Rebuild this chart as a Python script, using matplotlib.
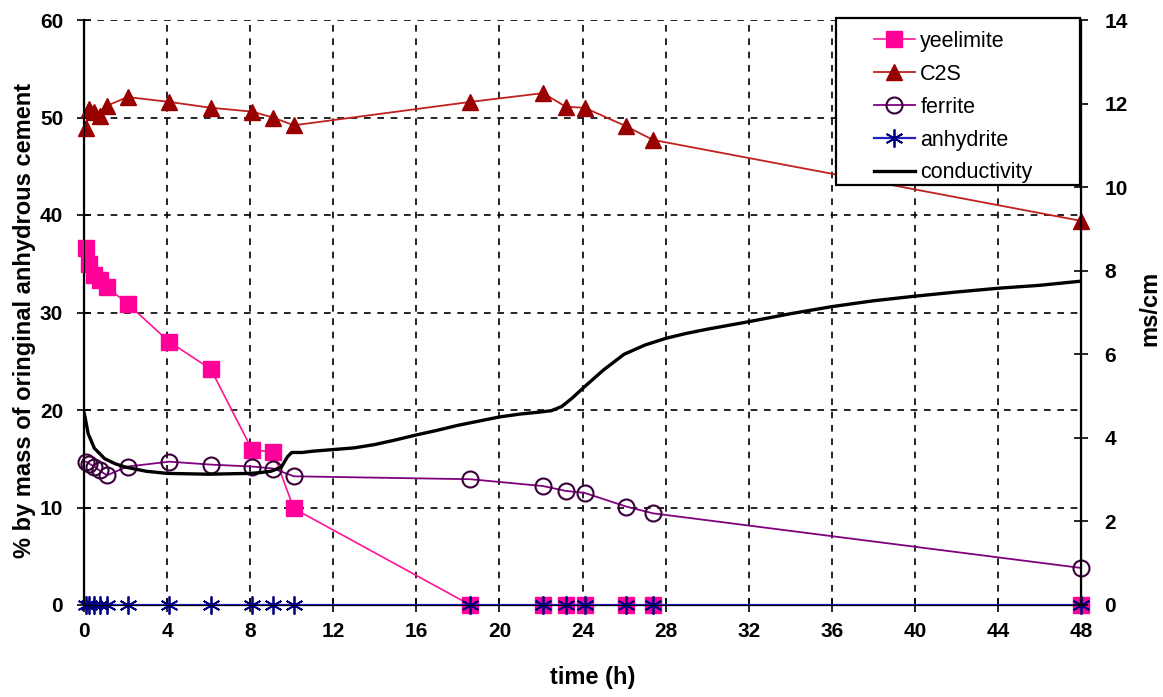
import matplotlib
matplotlib.use("Agg")
import matplotlib.pyplot as plt
from matplotlib.patches import Rectangle

plt.rcParams['font.family'] = ['Liberation Sans', 'DejaVu Sans']

# ---- data ----
time_phase = [0.1, 0.25, 0.5, 0.75, 1.1, 2.1, 4.1, 6.1, 8.1, 9.1, 10.1,
              18.6, 22.1, 23.2, 24.1, 26.1, 27.4, 48.0]
yeelimite = [36.6, 35.0, 33.8, 33.3, 32.6, 30.9, 27.0, 24.2, 15.9, 15.7, 9.9,
             0.0, 0.0, 0.0, 0.0, 0.0, 0.0, 0.0]
c2s = [48.9, 50.9, 50.6, 50.2, 51.2, 52.1, 51.6, 51.0, 50.6, 50.0, 49.2,
       51.6, 52.5, 51.1, 51.0, 49.1, 47.7, 39.4]
ferrite = [14.7, 14.5, 14.2, 13.8, 13.3, 14.2, 14.7, 14.4, 14.2, 14.0, 13.2,
           12.9, 12.2, 11.7, 11.5, 10.1, 9.4, 3.8]
anhydrite = [0.0] * len(time_phase)

time_cond = [0.0, 0.05, 0.2, 0.5, 1.0, 1.5, 2.0, 3.0, 4.0, 5.0, 6.0, 7.0, 8.0,
             8.5, 9.0, 9.5, 9.8, 10.0, 10.5, 11.0, 12.0, 13.0, 14.0, 15.0,
             16.0, 17.0, 18.0, 19.0, 20.0, 21.0, 22.0, 22.5, 23.0, 23.5, 24.0,
             25.0, 26.0, 27.0, 28.0, 29.0, 30.0, 32.0, 34.0, 36.0, 38.0, 40.0,
             42.0, 44.0, 46.0, 48.0]
conductivity = [4.6, 4.5, 4.1, 3.75, 3.5, 3.38, 3.3, 3.2, 3.15, 3.14, 3.13,
                3.14, 3.15, 3.17, 3.2, 3.3, 3.55, 3.65, 3.65, 3.68, 3.72,
                3.76, 3.84, 3.95, 4.07, 4.18, 4.3, 4.4, 4.5, 4.57, 4.62, 4.65,
                4.75, 4.95, 5.18, 5.62, 6.0, 6.22, 6.38, 6.5, 6.6, 6.78, 6.97,
                7.14, 7.28, 7.39, 7.49, 7.58, 7.65, 7.75]

x_ticks = list(range(0, 49, 4))
left_ticks = list(range(0, 61, 10))
right_ticks = list(range(0, 15, 2))

W, H = 1163, 697

# ---- figure ----
fig = plt.figure(figsize=(W / 100, H / 100), dpi=100)
ax = fig.add_axes([84 / W, 1 - 605 / H, (1081 - 84) / W, (605 - 20) / H])
ax2 = ax.twinx()

ax.plot(time_phase, yeelimite, color='#FF1493', lw=1.2, marker='s', ms=11,
        mfc='#FF0099', mec='#FF0099', label='yeelimite', zorder=3,
        clip_on=False)
ax.plot(time_phase, c2s, color='#C0201E', lw=1.3, marker='^', ms=11,
        mfc='#990000', mec='#990000', label='C2S', zorder=3, clip_on=False)
ax.plot(time_phase, ferrite, color='#800080', lw=1.3, marker='o', ms=11.5,
        mfc='none', mec='#3A003A', mew=1.5, label='ferrite', zorder=3,
        clip_on=False)
ax.plot(time_phase, anhydrite, color='#2020C0', lw=1.6, marker=(6, 2, 0),
        ms=13, mec='#000080', mew=1.3, label='anhydrite', zorder=4,
        clip_on=False)

ax2.plot(time_cond, conductivity, color='black', lw=2.4, label='conductivity',
         zorder=3)

ax.set_xlim(0, 48)
ax.set_ylim(0, 60)
ax2.set_ylim(0, 14)
ax.set_xticks(x_ticks)
ax.set_yticks(left_ticks)
ax2.set_yticks(right_ticks)

ax.grid(True, color='black', linestyle=(0, (4, 4)), lw=1.2)
ax.set_axisbelow(True)

for a in (ax, ax2):
    a.spines['top'].set_visible(False)
    a.tick_params(direction='inout', length=10, width=1.2, labelsize=15)
    for lab in a.get_yticklabels() + a.get_xticklabels():
        lab.set_fontweight('bold')
ax.spines['left'].set_linewidth(1.6)
ax.spines['bottom'].set_linewidth(1.2)
ax2.spines['right'].set_linewidth(1.6)
ax.tick_params(axis='x', pad=7)
ax.tick_params(axis='y', pad=10)
ax2.tick_params(axis='y', pad=12)

ax.set_xlabel('time (h)', fontsize=17, fontweight='bold')
ax.set_ylabel('% by mass of oringinal anhydrous cement', fontsize=17,
              fontweight='bold')
ax2.set_ylabel('ms/cm', fontsize=17, fontweight='bold')
ax.xaxis.set_label_coords(593 / W, 1 - 666 / H, transform=fig.transFigure)
ax.yaxis.set_label_coords(36 / W, 1 - 320 / H, transform=fig.transFigure)
ax2.yaxis.set_label_coords(1138 / W, 1 - 308 / H, transform=fig.transFigure)

# legend box
box = Rectangle((836 / W, 1 - 185 / H), (1080 - 836) / W, (185 - 18) / H,
                transform=fig.transFigure, facecolor='white',
                edgecolor='black', lw=1.6, zorder=4)
fig.add_artist(box)

h1, l1 = ax.get_legend_handles_labels()
h2, l2 = ax2.get_legend_handles_labels()
leg = fig.legend(h1 + h2, l1 + l2, loc='upper left',
                 bbox_to_anchor=(874 / W, 1 - 31 / H), fontsize=15.5,
                 frameon=False, borderpad=0.0, labelspacing=0.55,
                 handlelength=1.9, handletextpad=0.25, borderaxespad=0.0)
leg.set_zorder(6)

fig.savefig('out.png', dpi=100)
